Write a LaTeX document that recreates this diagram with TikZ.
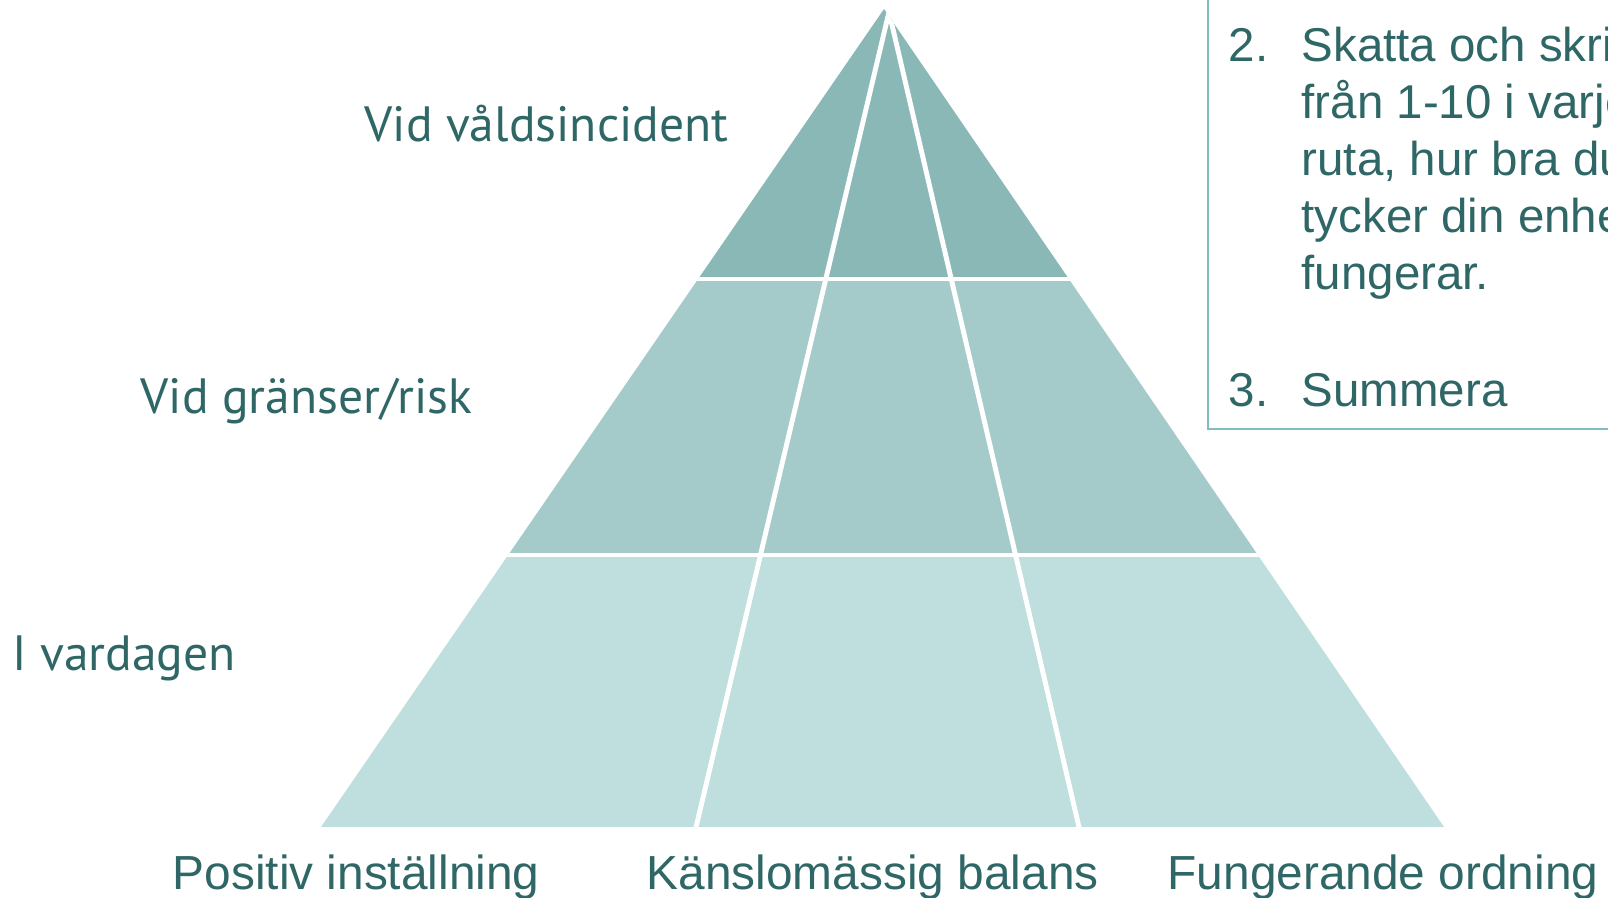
\documentclass[tikz,border=0pt]{standalone}
\usepackage{fontspec}
\setmainfont{Liberation Sans}
\newfontfamily\levelfont{PT Sans}
\usetikzlibrary{positioning}

\definecolor{toprow}{HTML}{8AB8B7}
\definecolor{midrow}{HTML}{A5CACA}
\definecolor{lowrow}{HTML}{BFDEDE}
\definecolor{ink}{HTML}{2F6666}
\definecolor{boxline}{HTML}{7FBFBF}

\begin{document}
\begin{tikzpicture}[x=0.01cm,y=-0.01cm,
    level label/.style={font=\levelfont\fontsize{14.1}{17}\selectfont,text=ink,inner sep=0pt,anchor=base west},
    area label/.style={font=\fontsize{13.6}{16}\selectfont,text=ink,inner sep=0pt,anchor=base west},
    task line/.style={font=\fontsize{13.5}{16}\selectfont,text=ink,inner sep=0pt,anchor=base west},
    gap line/.style={white,line width=1.4pt}]
  \useasboundingbox (0,0) rectangle (1608,898);
  \clip (0,0) rectangle (1608,898);

  % pyramid
  \coordinate (apex) at (884,9);
  \coordinate (left foot) at (321,827);
  \coordinate (right foot) at (1444,827);
  \coordinate (meet) at (889,12);
  \coordinate (left cut) at (693,840);
  \coordinate (right cut) at (1082,840);
  \begin{scope}
    \clip (apex) -- (left foot) -- (right foot) -- cycle;
    \fill[lowrow] (0,555) rectangle (1608,840);
    \fill[midrow] (0,279) rectangle (1608,555);
    \fill[toprow] (0,0) rectangle (1608,279);
    \draw[gap line] (0,279) -- (1608,279);
    \draw[gap line] (0,555) -- (1608,555);
    \draw[gap line] (meet) -- (left cut);
    \draw[gap line] (meet) -- (right cut);
  \end{scope}

  % levels
  \node[level label] (incident) at (364,141.5) {Vid våldsincident};
  \node[level label] (risk) at (140,414) {Vid gränser/risk};
  \node[level label] (daily) at (12,671) {I vardagen};

  % areas
  \node[area label] (positive) at (172,890) {Positiv inställning};
  \node[area label] (balance) at (646,890) {Känslomässig balans};
  \node[area label] (order) at (1167,890) {Fungerande ordning};

  % task box
  \draw[boxline,line width=0.5pt] (1620,-10) -- (1208,-10) -- (1208,429) -- (1620,429);
  \node[task line] (step two) at (1228,61.7) {2.};
  \node[task line] (l1) at (1301,61.7) {Skatta och skri};
  \node[task line] (l2) at (1301,118.5) {från 1-10 i varje};
  \node[task line] (l3) at (1301,175.5) {ruta, hur bra du};
  \node[task line] (l4) at (1301,232.5) {tycker din enhe};
  \node[task line] (l5) at (1301,290) {fungerar.};
  \node[task line] (step three) at (1228,406.7) {3.};
  \node[task line] (l6) at (1301,406.7) {Summera};
\end{tikzpicture}
\end{document}
